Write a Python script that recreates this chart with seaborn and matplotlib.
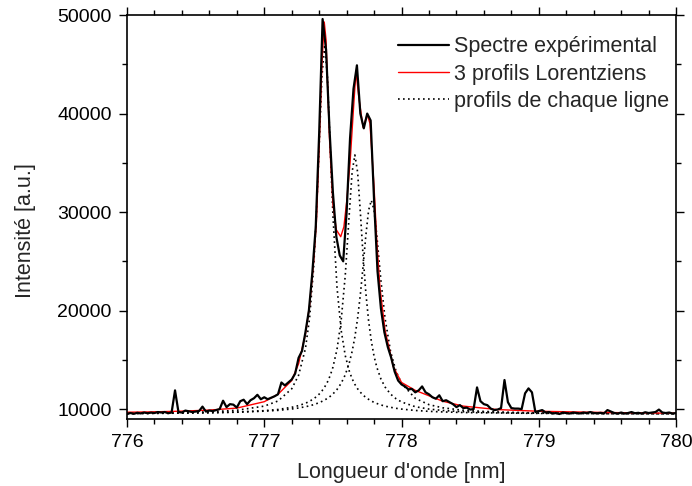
import numpy as np
import pandas as pd
import matplotlib
matplotlib.use("Agg")
import matplotlib.pyplot as plt
import seaborn as sns
from matplotlib.ticker import MultipleLocator

# experimental spectrum (step 0.025 nm from 776 to 780)
exp_wavelength = np.linspace(776.0, 780.0, 161)
exp_intensity = [
    9500, 9600, 9520, 9620, 9560, 9650, 9580, 9640, 9600, 9700,
    9650, 9700, 9580, 9650, 11900, 9700, 9650, 9850, 9780, 9700,
    9750, 9800, 10250, 9750, 9850, 9800, 9900, 10000, 10850, 10200,
    10500, 10450, 10150, 10800, 10950, 10500, 10900, 11100, 11450, 11000,
    11200, 11000, 11150, 11300, 11500, 12700, 12400, 12700, 13000, 13600,
    15200, 15900, 17800, 20000, 23800, 28500, 38000, 49600, 46500, 38500,
    32000, 27500, 25600, 25000, 30000, 37500, 42500, 44900, 40000, 38500,
    40000, 39300, 31200, 24000, 20200, 17800, 16300, 15200, 13800, 12900,
    12500, 12300, 12000, 12050, 11700, 11900, 12300, 11700, 11500, 11200,
    11050, 11400, 10800, 10900, 10700, 10500, 10200, 10400, 10100, 10150,
    9950, 10000, 12200, 10800, 10500, 10400, 10050, 9900, 9950, 10100,
    12950, 10700, 10100, 10050, 10050, 10000, 11600, 12100, 11700, 9700,
    9800, 9900, 9650, 9700, 9550, 9600, 9500, 9650, 9600, 9550,
    9650, 9600, 9560, 9650, 9600, 9700, 9600, 9580, 9620, 9560,
    9900, 9750, 9600, 9550, 9650, 9550, 9600, 9700, 9580, 9620,
    9550, 9680, 9600, 9650, 9700, 9950, 9650, 9600, 9650, 9550,
    9600,
]

# sum of the 3 Lorentzian profiles (red curve)
fit_wavelength = [776.0, 776.2, 776.4, 776.6, 776.8, 777.0, 777.1, 777.2, 777.25, 777.3,
                  777.33, 777.36, 777.38, 777.40, 777.42, 777.437, 777.45, 777.475, 777.50, 777.525,
                  777.557, 777.58, 777.60, 777.625, 777.65, 777.668, 777.69, 777.72, 777.75, 777.77,
                  777.80, 777.82, 777.843, 777.88, 777.94, 778.0, 778.1, 778.2, 778.3, 778.45,
                  778.7, 779.0, 779.5, 780.0]
fit_intensity = [9680, 9720, 9790, 9900, 10100, 10750, 11500, 12900, 14600, 17600,
                 20500, 25000, 29000, 36500, 45000, 49300, 47500, 37500, 30800, 28200,
                 27500, 28500, 31000, 35000, 40500, 44300, 41500, 38600, 39900, 39000,
                 32500, 27000, 22300, 18000, 14300, 12700, 11900, 11350, 10800, 10300,
                 9950, 9780, 9650, 9580]

# individual line profiles (dotted curves)
line_wavelength = [776.0, 776.2, 776.4, 776.6, 776.8, 777.0, 777.1, 777.2, 777.25, 777.3,
                   777.33, 777.36, 777.38, 777.40, 777.42, 777.44, 777.46, 777.48, 777.50, 777.53,
                   777.56, 777.59, 777.62, 777.64, 777.66, 777.68, 777.70, 777.72, 777.74, 777.76,
                   777.78, 777.80, 777.82, 777.85, 777.88, 777.92, 777.96, 778.0, 778.1, 778.2,
                   778.3, 778.45, 778.6, 778.8, 779.0, 779.3, 779.6, 780.0]
line1_intensity = [9580, 9600, 9650, 9720, 9880, 10300, 10820, 12060, 13430, 16150,
                   19210, 24410, 29750, 36700, 43760, 47000, 43760, 36700, 29750, 22350,
                   18010, 15430, 13830, 13080, 12510, 12060, 11710, 11420, 11180, 10990,
                   10820, 10680, 10570, 10420, 10300, 10180, 10080, 10000, 9860, 9770,
                   9710, 9650, 9620, 9590, 9560, 9550, 9530, 9520]
line2_intensity = [9550, 9570, 9590, 9630, 9700, 9840, 9960, 10180, 10350, 10590,
                   10790, 11050, 11260, 11520, 11840, 12240, 12740, 13390, 14240, 16070,
                   18970, 23560, 29980, 34050, 35800, 34050, 29980, 25540, 21800, 18970,
                   16890, 15360, 14240, 13050, 12240, 11520, 11050, 10720, 10240, 10000,
                   9860, 9730, 9670, 9610, 9580, 9550, 9540, 9530]
line3_intensity = [9560, 9570, 9590, 9630, 9680, 9790, 9870, 10010, 10110, 10240,
                   10330, 10450, 10550, 10650, 10780, 10920, 11090, 11290, 11530, 11990,
                   12610, 13480, 14720, 15850, 17310, 19210, 21620, 24520, 27620, 30180,
                   31200, 30180, 27620, 23020, 19210, 15850, 13840, 12610, 11090, 10450,
                   10130, 9880, 9760, 9670, 9620, 9580, 9550, 9540]

sns.set_theme(style="ticks")
plt.rcParams["font.family"] = ["Liberation Sans", "DejaVu Sans"]

fig, ax = plt.subplots(figsize=(6.92, 4.86), dpi=100)
fig.subplots_adjust(left=0.1835, right=0.977, top=0.969, bottom=0.138)

for k, ys in enumerate([line1_intensity, line2_intensity, line3_intensity]):
    sns.lineplot(x=line_wavelength, y=ys, ax=ax, color="black", lw=1.2,
                 linestyle=(0, (1, 2)), label="profils de chaque ligne" if k == 0 else None,
                 sort=False, estimator=None)
sns.lineplot(x=fit_wavelength, y=fit_intensity, ax=ax, color="#ff0000", lw=1.0,
             label="3 profils Lorentziens", sort=False, estimator=None)
sns.lineplot(x=exp_wavelength, y=exp_intensity, ax=ax, color="black", lw=1.6,
             label="Spectre expérimental", sort=False, estimator=None)

ax.set_xlim(776, 780)
ax.set_ylim(9000, 50000)
ax.xaxis.set_major_locator(MultipleLocator(1))
ax.xaxis.set_minor_locator(MultipleLocator(0.2))
ax.yaxis.set_major_locator(MultipleLocator(10000))
ax.yaxis.set_minor_locator(MultipleLocator(5000))
ax.tick_params(which="both", direction="out", top=True, right=True, width=1.0, colors="black")
ax.tick_params(which="major", length=6, labelsize=14, pad=5)
ax.tick_params(which="minor", length=3.5)
for s in ax.spines.values():
    s.set_linewidth(1.2)
    s.set_color("black")
ax.set_xlabel("Longueur d'onde [nm]", fontsize=15.5, labelpad=8)
ax.set_ylabel("Intensité [a.u.]", fontsize=15.5)
ax.yaxis.set_label_coords(-0.166, 0.466)

h, l = ax.get_legend_handles_labels()
order = [l.index("Spectre expérimental"), l.index("3 profils Lorentziens"), l.index("profils de chaque ligne")]
ax.legend([h[i] for i in order], [l[i] for i in order], loc="upper left",
          bbox_to_anchor=(0.494, 0.948), frameon=False, fontsize=15.5,
          handlelength=2.35, handletextpad=0.25, labelspacing=0.3, borderpad=0, borderaxespad=0)

fig.savefig("out.png", dpi=100)
